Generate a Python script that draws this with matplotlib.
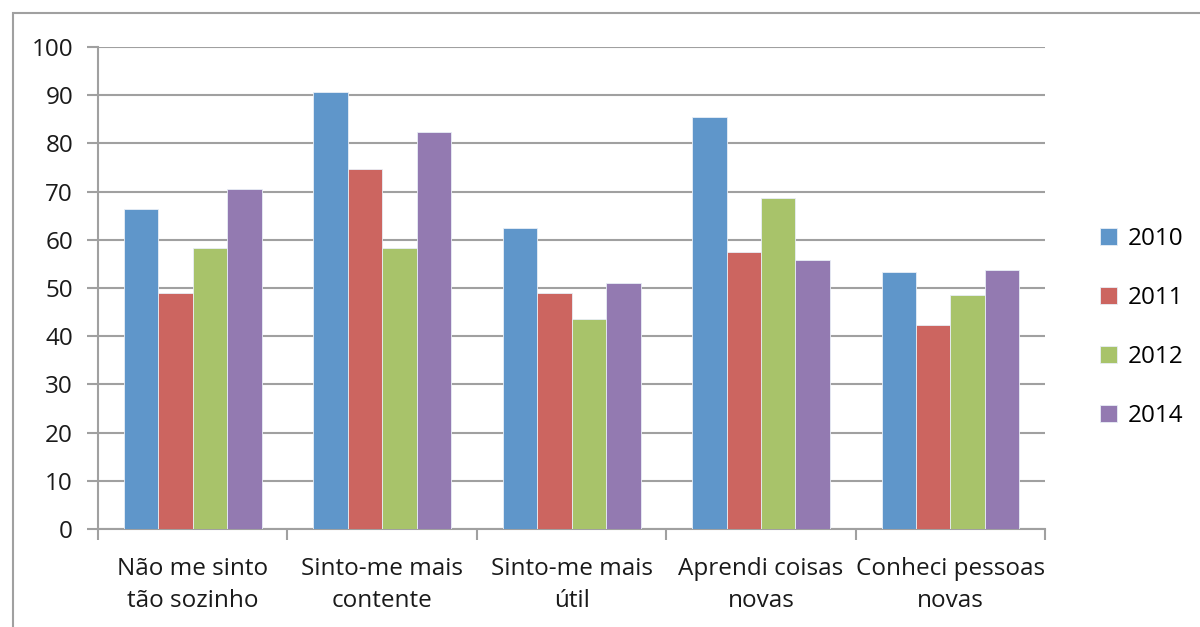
import numpy as np
import matplotlib.pyplot as plt
from matplotlib.patches import Rectangle

categories = ["Não me sinto\ntão sozinho", "Sinto-me mais\ncontente", "Sinto-me mais\nútil",
              "Aprendi coisas\nnovas", "Conheci pessoas\nnovas"]
years = ["2010", "2011", "2012", "2014"]
v2010 = [66.3, 90.7, 62.5, 85.5, 53.4]
v2011 = [48.9, 74.6, 48.9, 57.5, 42.3]
v2012 = [58.2, 58.2, 43.6, 68.7, 48.5]
v2014 = [70.5, 82.3, 51.0, 55.8, 53.7]
colors = ["#5F96CA", "#CC6560", "#A8C36A", "#937AB1"]

plt.rcParams['font.family'] = ['Open Sans', 'DejaVu Sans']

fig = plt.figure(figsize=(12, 6.27), dpi=100)
ax = fig.add_axes([0.0817, 0.1563, 0.7893, 0.7687])

# frame around the chart
fig.patches.append(Rectangle((0.0105, -0.01), 1.0, 0.99, transform=fig.transFigure,
                             fill=False, edgecolor="#A0A0A0", linewidth=1.5))

x = np.arange(len(categories))
w = 1 / 5.5
series = [v2010, v2011, v2012, v2014]
for i, (vals, yr) in enumerate(zip(series, years)):
    ax.bar(x + (i - 1.5) * w, vals, width=w, color=colors[i], label=yr,
           edgecolor="#E8EEF6", linewidth=0.6, zorder=3)

ax.set_xlim(-0.5, len(categories) - 0.5)
ax.set_ylim(0, 100)
ax.set_yticks(np.arange(0, 101, 10))
ax.yaxis.grid(True, color="#A0A0A0", linewidth=1.5, zorder=0)
ax.set_axisbelow(True)

for s in ["top", "right"]:
    ax.spines[s].set_visible(False)
for s in ["left", "bottom"]:
    ax.spines[s].set_color("#A0A0A0")
    ax.spines[s].set_linewidth(1.5)

# category boundary ticks on x axis
ax.set_xticks(np.arange(-0.5, len(categories)), minor=False)
ax.set_xticklabels([])
ax.set_xticks(x, minor=True)
ax.set_xticklabels(categories, minor=True, fontsize=17.5, color="#1a1a1a", linespacing=1.45)
ax.tick_params(axis="x", which="major", length=8, width=1.5, color="#A0A0A0", direction="out")
ax.tick_params(axis="x", which="minor", length=0, pad=20)
ax.tick_params(axis="y", length=8, width=1.5, color="#A0A0A0", labelsize=17.5,
               labelcolor="#1a1a1a", pad=10)

ax.legend(loc="center left", bbox_to_anchor=(1.035, 0.418), frameon=False, fontsize=17.5,
          handlelength=0.7, handleheight=0.7, handletextpad=0.45, labelspacing=1.45)

fig.savefig("out.png", dpi=100)
